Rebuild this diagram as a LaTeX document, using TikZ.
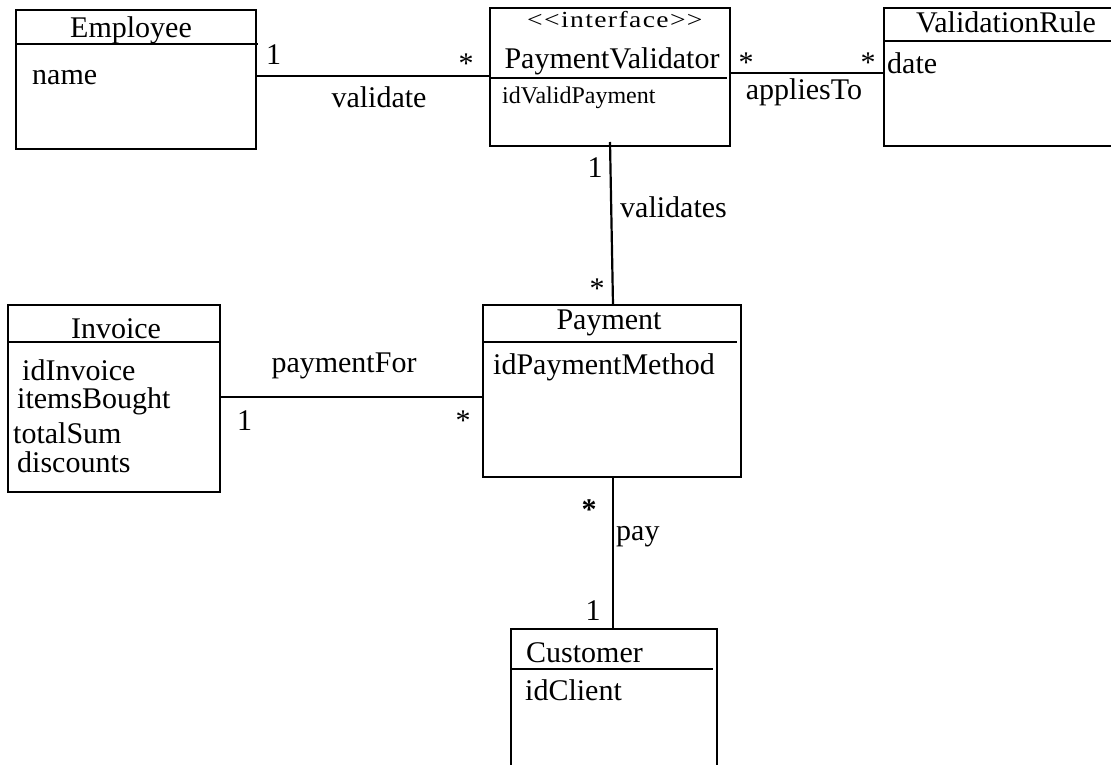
\documentclass[tikz,border=0pt]{standalone}
\usepackage{graphicx}
\usepackage{fontspec}
\setmainfont{Liberation Serif}
% stereotype text: no << ligature, slightly loose tracking
\newfontfamily\stereofont{Liberation Serif}[Ligatures=TeXOff, LetterSpace=5]
\usetikzlibrary{positioning}

\tikzset{
  classbox/.style={draw, line width=1.8pt, rectangle, inner sep=0pt, outer sep=0pt, anchor=north west},
  sepline/.style={line width=1.8pt},
  assoc/.style={line width=2.2pt},
  txt/.style={inner sep=0pt, font=\fontsize{30}{34}\selectfont},
  small/.style={inner sep=0pt, font=\fontsize{24}{28}\selectfont},
  stereo/.style={inner sep=0pt, font=\stereofont\fontsize{23}{26}\selectfont},
}

\begin{document}
\begin{tikzpicture}[x=1pt, y=-1pt]
\useasboundingbox (0,0) rectangle (1111,765);
\clip (0,0) rectangle (1111,765);
\fill[white] (0,0) rectangle (1111,765);

% ---- class boxes ----
\node[classbox, minimum width=240pt, minimum height=139pt] (emp) at (16,10) {};
\node[classbox, minimum width=240pt, minimum height=138pt] (pv) at (490,8) {};
\node[classbox, minimum width=260pt, minimum height=138pt] (vr) at (884,8) {};
\node[classbox, minimum width=212pt, minimum height=187pt] (inv) at (8,305) {};
\node[classbox, minimum width=258pt, minimum height=172pt] (pay) at (483,305) {};
\node[classbox, minimum width=206pt, minimum height=200pt] (cust) at (511,629) {};

% ---- compartment separators ----
\draw[sepline] ([yshift=-34pt]emp.north west) -- ([yshift=-34pt,xshift=2pt]emp.north east);
\draw[sepline] ([yshift=-70pt]pv.north west) -- ([yshift=-70pt,xshift=-3pt]pv.north east);
\draw[sepline] ([yshift=-33pt]vr.north west) -- ([yshift=-33pt]vr.north east);
\draw[sepline] ([yshift=-37pt]inv.north west) -- ([yshift=-37pt]inv.north east);
\draw[sepline] ([yshift=-37pt]pay.north west) -- ([yshift=-37pt,xshift=-4pt]pay.north east);
\draw[sepline] ([yshift=-40pt]cust.north west) -- ([yshift=-40pt,xshift=-4pt]cust.north east);

% ---- class names and attributes ----
\node[txt, anchor=base] (empName) at (131,38) {Employee};
\node[txt, anchor=base west] (empAttr) at (32,85) {name};

\node[stereo, anchor=base west] (pvStereo) at (527,28) {\scalebox{1.2}[1]{<<interface>>}};
\node[txt, anchor=base] (pvName) at (612,69) {PaymentValidator};
\node[small, anchor=base west] (pvAttr) at (502,104) {idValidPayment};

\node[txt, anchor=base] (vrName) at (1006,33) {ValidationRule};
\node[txt, anchor=base west] (vrAttr) at (887,74) {date};

\node[txt, anchor=base] (invName) at (116,338) {Invoice};
\node[txt, anchor=base west] (invA1) at (22,380) {idInvoice};
\node[txt, anchor=base west] (invA2) at (17,408) {itemsBought};
\node[txt, anchor=base west] (invA3) at (13,443) {totalSum};
\node[txt, anchor=base west] (invA4) at (17,472) {discounts};

\node[txt, anchor=base] (payName) at (609,329) {Payment};
\node[txt, anchor=base west] (payAttr) at (493,374) {idPaymentMethod};

\node[txt, anchor=base west] (custName) at (526,662) {Customer};
\node[txt, anchor=base west] (custAttr) at (525,700) {idClient};

% ---- associations ----
\draw[assoc] ([yshift=-66pt]emp.north east) -- ([yshift=-68pt]pv.north west);
\draw[assoc] ([yshift=-65pt]pv.north east) -- ([yshift=-65pt]vr.north west);
\draw[assoc] ([xshift=120pt,yshift=4pt]pv.south west) -- ([xshift=130pt]pay.north west);
\draw[assoc] ([yshift=-92pt]inv.north east) -- ([yshift=-92pt]pay.north west);
\draw[assoc] ([xshift=130pt]pay.south west) -- ([xshift=102pt]cust.north west);

% ---- association names and multiplicities ----
\node[txt, anchor=base west] (m1) at (266,65) {1};
\node[txt, anchor=base] (m2) at (466,74) {*};
\node[txt, anchor=base] (lValidate) at (379,108) {validate};

\node[txt, anchor=base] (m3) at (746,73) {*};
\node[txt, anchor=base] (m4) at (868,73) {*};
\node[txt, anchor=base] (lApplies) at (804,100) {appliesTo};

\node[txt, anchor=base] (m5) at (595,177) {1};
\node[txt, anchor=base west] (lValidates) at (620,217) {validates};
\node[txt, anchor=base] (m6) at (597,298) {*};

\node[txt, anchor=base] (lPayFor) at (344,372) {paymentFor};
\node[txt, anchor=base west] (m7) at (237,430) {1};
\node[txt, anchor=base] (m8) at (463,430) {*};

\node[txt, anchor=base] (m9) at (589,519) {\textbf{*}};
\node[txt, anchor=base west] (lPay) at (616,540) {pay};
\node[txt, anchor=base] (m10) at (593,620) {1};
\end{tikzpicture}
\end{document}
